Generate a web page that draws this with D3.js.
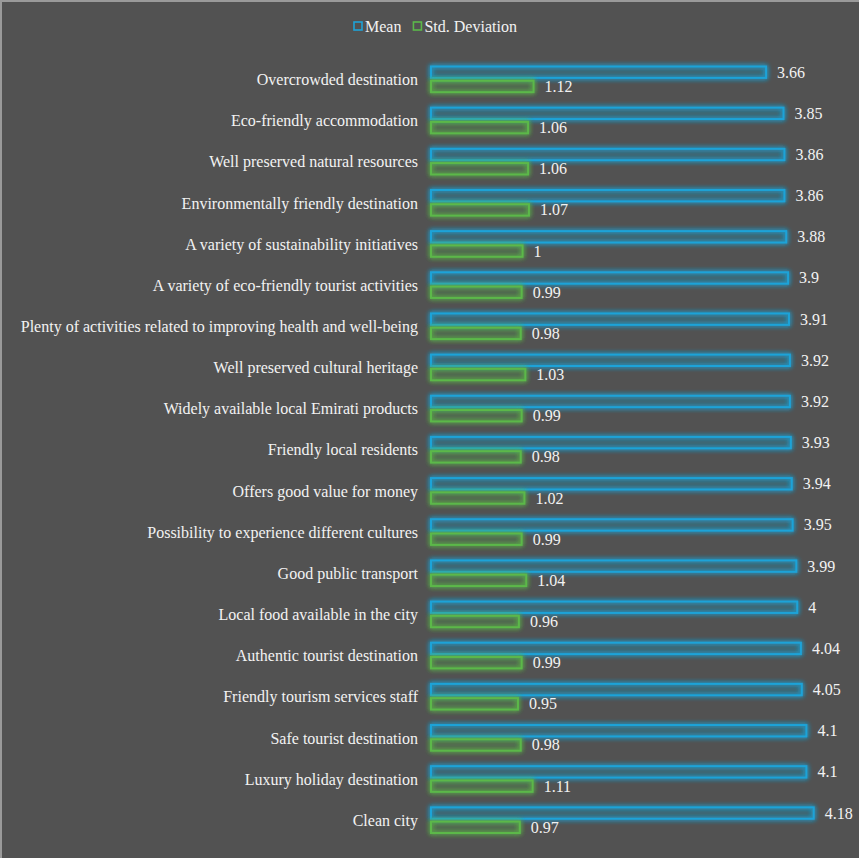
<!DOCTYPE html>
<html>
<head>
<meta charset="utf-8">
<script src="https://cdn.jsdelivr.net/npm/d3@7"></script>
<style>
  html,body{margin:0;padding:0;background:#525252;}
  svg{display:block;}
</style>
</head>
<body>
<svg id="chart" width="859" height="858"></svg>
<script>
// survey attributes, top to bottom
const categories = [
  "Overcrowded destination",
  "Eco-friendly accommodation",
  "Well preserved natural resources",
  "Environmentally friendly destination",
  "A variety of sustainability initiatives",
  "A variety of eco-friendly tourist activities",
  "Plenty of activities related to improving health and well-being",
  "Well preserved cultural heritage",
  "Widely available local Emirati products",
  "Friendly local residents",
  "Offers good value for money",
  "Possibility to experience different cultures",
  "Good public transport",
  "Local food available in the city",
  "Authentic tourist destination",
  "Friendly tourism services staff",
  "Safe tourist destination",
  "Luxury holiday destination",
  "Clean city"
];
const meanVals = [3.66,3.85,3.86,3.86,3.88,3.9,3.91,3.92,3.92,3.93,3.94,3.95,3.99,4,4.04,4.05,4.1,4.1,4.18];
const sdVals   = [1.12,1.06,1.06,1.07,1,0.99,0.98,1.03,0.99,0.98,1.02,0.99,1.04,0.96,0.99,0.95,0.98,1.11,0.97];
const seriesNames = ["Mean","Std. Deviation"];

const W=859, H=858;
const BLUE="#1ea3d8", GREEN="#5bb84a";
const FONT="'Liberation Serif', 'DejaVu Serif', serif";
const FS="16px";

const svg=d3.select("#chart");

// frame (light edge on left/top like the original)
svg.append("rect").attr("x",0).attr("y",0).attr("width",W).attr("height",H).attr("fill","#525252");
svg.append("line").attr("x1",1).attr("x2",1).attr("y1",0).attr("y2",H).attr("stroke","#9a9a9a").attr("stroke-width",2);
svg.append("line").attr("x1",0).attr("x2",W).attr("y1",1).attr("y2",1).attr("stroke","#9a9a9a").attr("stroke-width",2);

const defs=svg.append("defs");
[["glowBlue",BLUE],["glowGreen",GREEN]].forEach(([id,c])=>{
  const f=defs.append("filter").attr("id",id).attr("x","-10%").attr("y","-80%").attr("width","120%").attr("height","260%");
  f.append("feGaussianBlur").attr("in","SourceGraphic").attr("stdDeviation",2.6).attr("result","b");
  const m=f.append("feMerge");
  m.append("feMergeNode").attr("in","b");
  m.append("feMergeNode").attr("in","b");
  m.append("feMergeNode").attr("in","SourceGraphic");
});

const x=d3.scaleLinear().domain([0,4.5]).range([431,843]);
const y=d3.scaleBand().domain(categories).range([59.5,841.5]);
const sub=d3.scaleBand().domain(seriesNames).range([7,y.bandwidth()-8.5]).paddingInner(0.2);

const rows=svg.append("g").selectAll("g").data(categories).join("g")
  .attr("transform",d=>`translate(0,${y(d)})`);

// category labels
rows.append("text")
  .attr("x",418).attr("y",y.bandwidth()/2+5)
  .attr("text-anchor","end").attr("fill","#f2f2f2")
  .style("font-family",FONT).style("font-size",FS)
  .text(d=>d);

const series=[
  {name:"Mean",vals:meanVals,color:BLUE,filter:"url(#glowBlue)"},
  {name:"Std. Deviation",vals:sdVals,color:GREEN,filter:"url(#glowGreen)"}
];

series.forEach(s=>{
  rows.append("rect")
    .attr("x",x(0)).attr("y",sub(s.name))
    .attr("width",(d,i)=>x(s.vals[i])-x(0)).attr("height",sub.bandwidth())
    .attr("fill",s.color).attr("fill-opacity",0.06)
    .attr("stroke",s.color).attr("stroke-width",2)
    .attr("filter",s.filter);
  rows.append("text")
    .attr("x",(d,i)=>x(s.vals[i])+11)
    .attr("y",sub(s.name)+sub.bandwidth()/2+5.5)
    .attr("fill","#f2f2f2")
    .style("font-family",FONT).style("font-size",FS)
    .text((d,i)=>s.vals[i]);
});

// legend
const lg=svg.append("g").attr("transform","translate(354,27)");
let lx=0;
series.forEach(s=>{
  lg.append("rect").attr("x",lx).attr("y",-5).attr("width",8).attr("height",8)
    .attr("fill","none").attr("stroke",s.color).attr("stroke-width",1.6);
  const t=lg.append("text").attr("x",lx+11).attr("y",5).attr("fill","#f2f2f2")
    .style("font-family",FONT).style("font-size",FS).text(s.name);
  lx+=t.node().getComputedTextLength()+11+12;
});
</script>
</body>
</html>
